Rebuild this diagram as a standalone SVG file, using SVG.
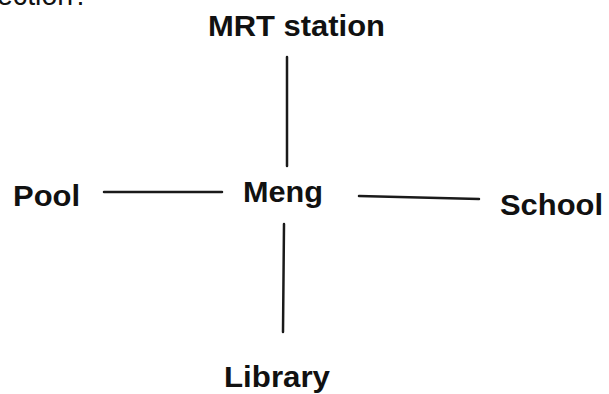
<svg xmlns="http://www.w3.org/2000/svg" width="609" height="394" viewBox="0 0 609 394">
<style>
.lbl{font-family:"Liberation Sans",Arial,sans-serif;font-weight:bold;font-size:30px;fill:#111}
.top{font-family:"Liberation Sans",Arial,sans-serif;font-size:30px;fill:#111}
.ln{stroke:#1a1a1a;stroke-width:2.5;fill:none;stroke-linecap:round}
</style>
<rect width="609" height="394" fill="#fff"/>
<text class="top" x="-3" y="5" textLength="92" lengthAdjust="spacingAndGlyphs">ection?</text>
<g id="connectors">
<line class="ln" x1="287" y1="57" x2="287" y2="166"/>
<line class="ln" x1="104" y1="192" x2="222" y2="192"/>
<line class="ln" x1="359" y1="196" x2="479" y2="199"/>
<line class="ln" x1="284" y1="224" x2="283" y2="332"/>
</g>
<g id="mrt"><text class="lbl" x="208" y="36" textLength="177" lengthAdjust="spacingAndGlyphs">MRT station</text></g>
<g id="pool"><text class="lbl" x="13" y="206" textLength="67" lengthAdjust="spacingAndGlyphs">Pool</text></g>
<g id="meng"><text class="lbl" x="243" y="202" textLength="80" lengthAdjust="spacingAndGlyphs">Meng</text></g>
<g id="school"><text class="lbl" x="500" y="215" textLength="103" lengthAdjust="spacingAndGlyphs">School</text></g>
<g id="library"><text class="lbl" x="224" y="387" textLength="106" lengthAdjust="spacingAndGlyphs">Library</text></g>
</svg>
